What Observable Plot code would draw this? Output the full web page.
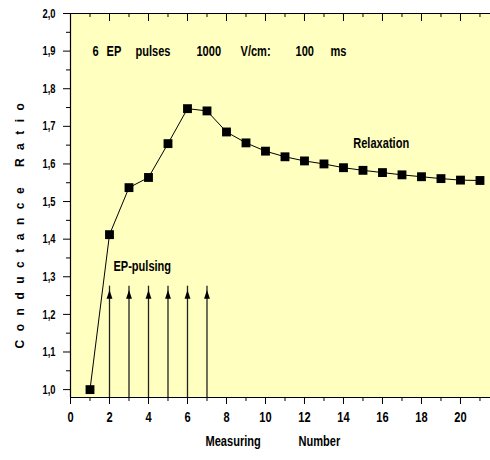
<!DOCTYPE html>
<html>
<head>
<meta charset="utf-8">
<script src="https://cdn.jsdelivr.net/npm/d3@7"></script>
<script src="https://cdn.jsdelivr.net/npm/@observablehq/plot@0.6"></script>
<style>
  body { margin: 0; background: #fff; }
  svg text { white-space: pre; }
</style>
</head>
<body>
<div id="chart"></div>
<script>
// ---- data ----
const measuring = [1, 2, 3, 4, 5, 6, 7, 8, 9, 10, 11, 12, 13, 14, 15, 16, 17, 18, 19, 20, 21];
const ratio = [1.000, 1.412, 1.537, 1.564, 1.654, 1.747, 1.741, 1.685, 1.656, 1.634, 1.619,
               1.608, 1.600, 1.590, 1.583, 1.577, 1.571, 1.566, 1.561, 1.557, 1.556];
const pulseAt = [2, 3, 4, 5, 6, 7];
const pulseTip = 1.265;
const xMajor = [0, 2, 4, 6, 8, 10, 12, 14, 16, 18, 20];
const xMinor = [1, 3, 5, 7, 9, 11, 13, 15, 17, 19, 21];
const yMajor = [1.0, 1.1, 1.2, 1.3, 1.4, 1.5, 1.6, 1.7, 1.8, 1.9, 2.0];
const yMinor = [1.05, 1.15, 1.25, 1.35, 1.45, 1.55, 1.65, 1.75, 1.85, 1.95];
const headerWords = ["6", "EP", "pulses", "1000", "V/cm:", "100", "ms"];
const headerX = [1.13, 1.85, 3.33, 6.46, 8.72, 11.54, 13.33];
const headerY = 1.9;
const pulsingLabel = "EP-pulsing";
const relaxLabel = "Relaxation";
const yTitle = "Conductance Ratio";
const xTitleWords = ["Measuring", "Number"];

const xDomain = [0, 21.54];
const yDomain = [0.979, 2.0];

const data = measuring.map((m, i) => ({m, r: ratio[i]}));
const pulses = pulseAt.map(p => ({p}));

const font = "'Liberation Sans', Arial, sans-serif";
const bg = "#ffffc0";

const headSymbol = {
  draw(context, size) {
    const h = Math.sqrt(size);
    context.moveTo(0, 0);
    context.lineTo(h * 0.33, h);
    context.lineTo(-h * 0.33, h);
    context.closePath();
  }
};

const chart = Plot.plot({
  width: 490,
  height: 460,
  marginLeft: 70,
  marginRight: 0,
  marginTop: 13,
  marginBottom: 63,
  x: {domain: xDomain},
  y: {domain: yDomain},
  style: {fontFamily: font, fontWeight: "bold", fontSize: "13px", background: "#fff", color: "#000"},
  marks: [
    Plot.frame({fill: bg, stroke: null}),
    // axes
    Plot.axisX({ticks: xMajor, tickSize: 7, tickPadding: 8, tickFormat: d3.format("d"), label: null, fontSize: 14, className: "narrow-tick"}),
    Plot.axisX({ticks: xMinor, tickSize: 4, tickFormat: () => "", label: null}),
    Plot.axisY({ticks: yMajor, tickSize: 7, tickPadding: 8, tickFormat: d => d.toFixed(1).replace(".", ","), label: null, fontSize: 13}),
    Plot.axisY({ticks: yMinor, tickSize: 4, tickFormat: () => "", label: null}),
    // inner top ticks
    Plot.ruleX(xMajor, {insetBottom: 384 - 8, stroke: "#000"}),
    Plot.ruleX(xMinor, {insetBottom: 384 - 4, stroke: "#000"}),
    // frame lines
    Plot.ruleX([xDomain[0]], {stroke: "#000", strokeWidth: 1.2}),
    Plot.ruleY([yDomain[0]], {stroke: "#000", strokeWidth: 1.2}),
    Plot.ruleY([yDomain[1]], {stroke: "#000", strokeWidth: 1.2}),
    // pulse arrows
    Plot.ruleX(pulses, {x: "p", y1: yDomain[0], y2: pulseTip + 0.01, stroke: "#222", strokeWidth: 1.3}),
    Plot.dot(pulses, {x: "p", y: pulseTip, symbol: headSymbol, r: 5, fill: "#000", stroke: null}),
    // data
    Plot.line(data, {x: "m", y: "r", stroke: "#000", strokeWidth: 1}),
    Plot.dot(data, {x: "m", y: "r", symbol: "square", r: 5, fill: "#000", stroke: null}),
    // annotations
    Plot.text(headerWords, {x: (d, i) => headerX[i], y: headerY, text: d => d, textAnchor: "start", fontSize: 14, fontWeight: "bold"}),
    Plot.text([pulsingLabel], {x: 2.2, y: 1.327, text: d => d, textAnchor: "start", fontSize: 14, fontWeight: "bold"}),
    Plot.text([relaxLabel], {x: 14.5, y: 1.654, text: d => d, textAnchor: "start", fontSize: 14, fontWeight: "bold"}),
    Plot.text([xTitleWords[0]], {frameAnchor: "bottom", dy: 48, dx: -75, textAnchor: "start", text: d => d, fontSize: 14, fontWeight: "bold"}),
    Plot.text([xTitleWords[1]], {frameAnchor: "bottom", dy: 48, dx: 18, textAnchor: "start", text: d => d, fontSize: 14, fontWeight: "bold"}),
    Plot.text([yTitle], {frameAnchor: "left", rotate: -90, dx: -50, dy: 16, textAnchor: "middle", text: d => d,
                         fontSize: 12, fontWeight: "bold"})
  ]
});

// narrow (condensed) lettering like the original
d3.select(chart).selectAll("text").each(function () {
  if (this.textContent === yTitle) {
    d3.select(this).style("letter-spacing", "8.5px");
    return;
  }
  const t = this.getAttribute("transform");
  const isYTick = /^\d,\d$/.test(this.textContent);
  const sx = isYTick ? 0.72 : 0.79;
  if (t) this.setAttribute("transform", t + ` scale(${sx},1)`);
  else {
    const x = +(this.getAttribute("x") || 0), y = +(this.getAttribute("y") || 0);
    this.removeAttribute("x"); this.removeAttribute("y");
    this.setAttribute("transform", `translate(${x},${y}) scale(${sx},1)`);
  }
});

document.getElementById("chart").appendChild(chart);
</script>
</body>
</html>
